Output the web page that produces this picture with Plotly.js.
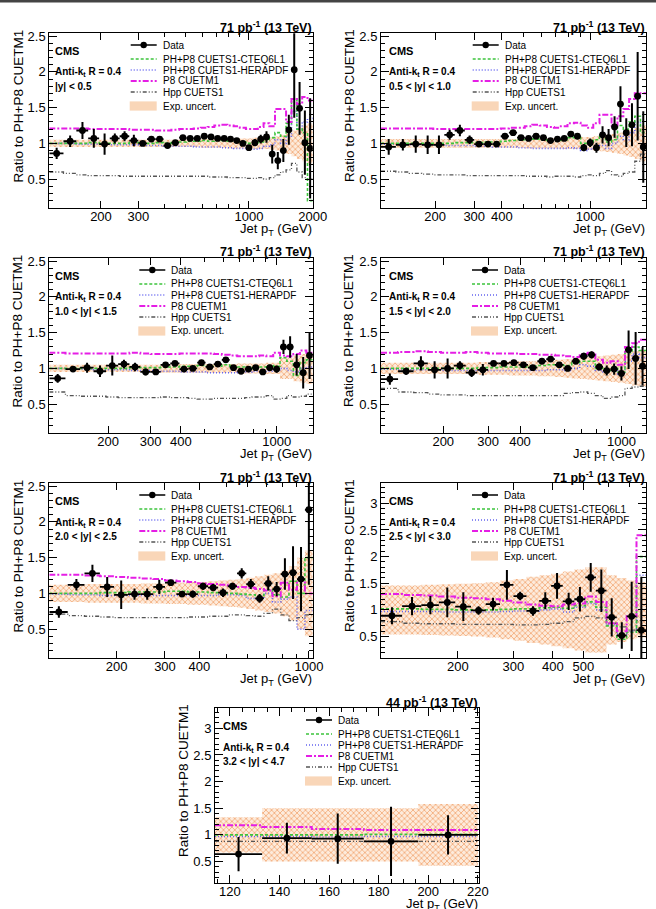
<!DOCTYPE html>
<html>
<head>
<meta charset="utf-8">
<script src="https://cdn.plot.ly/plotly-3.0.1.min.js"></script>
<style>
  html, body { margin: 0; padding: 0; background: #fff; }
  #chart { width: 656px; height: 909px; }
</style>
</head>
<body>
<div id="chart"></div>
<script>
// Jet pT bin edges (GeV), shared by all rapidity bins
const ptEdges = [114,133,153,174,196,220,245,272,300,330,362,395,430,468,507,548,592,638,686,737,790,846,905,967,1032,1101,1172,1248,1327,1410,1497,1588,1684,1784,1890,2000];

// |y| < 0.5
const ratio_y0 = [0.86,1.03,1.18,1.07,0.99,1.07,1.10,1.04,1.00,1.06,1.06,0.97,1.01,1.08,1.07,1.07,1.10,1.09,1.07,1.07,1.06,1.04,1.00,0.94,1.01,1.06,1.09,0.85,0.76,0.90,1.19,2.03,1.49,1.01,0.93];
const stat_y0  = [0.08,0.08,0.12,0.13,0.15,0.07,0.07,0.08,0.02,0.02,0.02,0.02,0.02,0.02,0.02,0.02,0.02,0.02,0.02,0.02,0.02,0.03,0.03,0.03,0.05,0.06,0.08,0.13,0.12,0.16,0.21,0.67,0.37,0.45,0.70];
const cteq_y0  = [1.00,1.00,1.00,1.01,1.00,1.00,1.00,1.01,1.01,1.00,1.01,1.00,1.01,1.02,1.03,1.03,1.04,1.03,1.04,1.04,1.03,1.03,1.02,1.00,1.00,1.02,1.05,1.08,1.15,1.10,1.28,1.62,1.20,1.15,0.20];
const hera_y0  = [1.00,1.00,0.99,0.99,0.99,0.98,0.98,0.98,0.97,0.97,0.97,0.96,0.96,0.96,0.96,0.95,0.95,0.95,0.95,0.94,0.94,0.93,0.93,0.92,0.92,0.93,0.96,0.98,1.05,1.00,1.10,1.45,1.20,1.30,1.35];
const p8_y0    = [1.21,1.21,1.21,1.20,1.20,1.20,1.20,1.19,1.19,1.19,1.18,1.18,1.19,1.20,1.20,1.21,1.22,1.23,1.25,1.26,1.25,1.24,1.22,1.20,1.20,1.23,1.28,1.24,1.48,1.48,1.30,1.62,1.55,1.65,1.60];
const hpp_y0   = [0.60,0.58,0.56,0.55,0.55,0.55,0.54,0.54,0.54,0.54,0.54,0.54,0.54,0.54,0.54,0.54,0.54,0.53,0.53,0.53,0.52,0.52,0.52,0.51,0.51,0.52,0.50,0.52,0.56,0.60,0.63,0.72,0.60,0.52,0.50];
const unc_y0   = [0.05,0.05,0.05,0.05,0.05,0.05,0.05,0.05,0.05,0.05,0.05,0.05,0.05,0.05,0.05,0.05,0.06,0.06,0.06,0.06,0.07,0.07,0.07,0.07,0.08,0.08,0.08,0.09,0.10,0.12,0.15,0.18,0.22,0.25,0.28];

// 0.5 < |y| < 1.0
const ratio_y1 = [0.95,0.98,0.99,0.98,0.98,1.12,1.18,1.05,0.99,0.99,0.99,1.10,1.15,1.08,1.07,1.10,1.08,1.04,1.06,1.07,1.13,1.10,0.94,1.01,0.94,1.12,1.08,1.23,1.55,1.15,1.26,1.66,0.95];
const stat_y1  = [0.11,0.08,0.12,0.13,0.13,0.07,0.08,0.06,0.02,0.02,0.02,0.03,0.03,0.02,0.02,0.02,0.02,0.02,0.03,0.03,0.04,0.04,0.05,0.06,0.07,0.12,0.12,0.15,0.25,0.20,0.30,0.62,0.50];
const cteq_y1  = [1.00,1.00,1.00,1.00,1.00,1.00,1.01,1.01,1.01,1.02,1.02,1.03,1.04,1.05,1.05,1.06,1.05,1.04,1.04,1.05,1.08,1.10,1.00,1.02,1.05,1.10,1.02,1.05,1.25,1.20,1.30,1.38,1.15];
const hera_y1  = [0.99,0.99,0.98,0.98,0.98,0.97,0.97,0.97,0.96,0.96,0.95,0.95,0.95,0.94,0.94,0.93,0.93,0.93,0.93,0.93,0.94,0.93,0.90,0.92,0.95,0.97,0.93,1.00,1.10,1.05,1.15,1.30,1.25];
const p8_y1    = [1.21,1.21,1.21,1.21,1.20,1.20,1.20,1.20,1.20,1.20,1.20,1.21,1.22,1.22,1.24,1.26,1.25,1.23,1.22,1.24,1.28,1.29,1.25,1.22,1.28,1.40,1.40,1.25,1.38,1.48,1.62,1.70,1.70];
const hpp_y1   = [0.61,0.60,0.58,0.57,0.56,0.56,0.56,0.55,0.55,0.55,0.55,0.55,0.55,0.55,0.54,0.54,0.54,0.53,0.54,0.54,0.54,0.53,0.55,0.56,0.55,0.58,0.62,0.56,0.54,0.58,0.60,0.75,0.85];
const unc_y1   = [0.06,0.06,0.06,0.06,0.06,0.06,0.06,0.06,0.06,0.06,0.06,0.06,0.06,0.06,0.07,0.07,0.07,0.07,0.07,0.08,0.08,0.08,0.09,0.09,0.10,0.11,0.12,0.13,0.15,0.17,0.19,0.22,0.25];

// 1.0 < |y| < 1.5
const ratio_y2 = [0.86,0.99,1.01,0.96,1.04,1.06,1.02,0.95,0.95,1.05,1.07,0.99,1.00,1.08,1.02,1.06,1.12,1.01,0.96,0.99,1.01,0.95,1.01,0.99,1.30,1.30,1.05,0.94,1.18];
const stat_y2  = [0.06,0.04,0.07,0.08,0.14,0.06,0.06,0.05,0.02,0.02,0.02,0.02,0.02,0.02,0.02,0.02,0.03,0.02,0.02,0.02,0.02,0.03,0.04,0.05,0.10,0.15,0.15,0.22,0.33];
const cteq_y2  = [1.00,1.00,1.00,1.00,1.00,1.00,1.01,1.01,1.01,1.02,1.02,1.03,1.03,1.04,1.03,1.03,1.05,1.03,1.02,1.01,1.00,1.02,1.04,1.03,1.15,1.10,0.90,1.08,1.12];
const hera_y2  = [1.00,0.99,0.99,0.98,0.98,0.98,0.97,0.97,0.97,0.96,0.96,0.95,0.95,0.95,0.94,0.94,0.94,0.94,0.95,0.95,0.96,0.96,0.96,0.98,1.00,0.97,0.95,1.00,1.02];
const p8_y2    = [1.22,1.21,1.21,1.21,1.21,1.21,1.22,1.21,1.20,1.20,1.20,1.21,1.21,1.21,1.21,1.20,1.19,1.18,1.17,1.17,1.17,1.18,1.17,1.22,1.18,1.17,1.20,1.25,1.22];
const hpp_y2   = [0.67,0.62,0.61,0.61,0.60,0.59,0.59,0.59,0.59,0.60,0.59,0.59,0.58,0.57,0.57,0.58,0.58,0.58,0.58,0.59,0.60,0.60,0.62,0.57,0.58,0.62,0.60,0.61,0.64];
const unc_y2   = [0.05,0.05,0.05,0.05,0.05,0.05,0.05,0.05,0.05,0.06,0.06,0.06,0.06,0.06,0.06,0.06,0.06,0.06,0.07,0.07,0.07,0.07,0.08,0.08,0.15,0.15,0.18,0.20,0.22];

// 1.5 < |y| < 2.0
const ratio_y3 = [0.85,0.96,1.07,0.98,1.00,1.04,0.94,0.98,1.07,1.07,1.08,1.05,1.01,1.10,1.13,1.05,1.00,1.10,1.17,1.19,1.02,0.97,0.99,0.93,1.26,1.14,1.03];
const stat_y3  = [0.08,0.05,0.10,0.12,0.14,0.06,0.06,0.08,0.03,0.03,0.03,0.03,0.03,0.03,0.03,0.03,0.03,0.04,0.05,0.05,0.05,0.07,0.08,0.10,0.27,0.37,0.27];
const cteq_y3  = [1.00,1.00,1.00,1.00,1.00,1.00,1.00,1.01,1.01,1.02,1.02,1.02,1.03,1.04,1.05,1.05,1.04,1.08,1.10,1.10,1.00,0.97,1.00,0.95,1.22,1.30,1.25];
const hera_y3  = [0.99,0.98,0.98,0.98,0.97,0.97,0.97,0.97,0.97,0.97,0.97,0.97,0.97,0.97,0.98,0.98,0.97,1.00,1.05,1.03,0.97,0.95,0.98,0.92,1.10,1.20,1.15];
const p8_y3    = [1.22,1.23,1.24,1.23,1.22,1.22,1.23,1.22,1.21,1.21,1.21,1.20,1.20,1.19,1.19,1.18,1.17,1.16,1.20,1.22,1.12,1.08,1.10,1.05,1.30,1.35,1.40];
const hpp_y3   = [0.72,0.67,0.66,0.64,0.63,0.63,0.62,0.62,0.62,0.62,0.62,0.62,0.62,0.62,0.62,0.62,0.65,0.66,0.67,0.65,0.62,0.58,0.60,0.62,0.72,0.74,0.75];
const unc_y3   = [0.08,0.08,0.08,0.08,0.08,0.08,0.08,0.09,0.09,0.09,0.10,0.10,0.10,0.11,0.11,0.12,0.13,0.14,0.15,0.16,0.17,0.18,0.19,0.20,0.22,0.24,0.25];

// 2.0 < |y| < 2.5
const ratio_y4 = [0.74,1.12,1.28,1.09,0.98,0.99,0.99,1.09,1.15,0.99,0.99,1.10,1.08,1.01,1.10,1.28,1.13,0.93,1.14,1.06,1.27,1.29,1.20,2.17];
const stat_y4  = [0.08,0.08,0.12,0.14,0.20,0.08,0.08,0.10,0.04,0.04,0.05,0.05,0.05,0.06,0.05,0.07,0.07,0.06,0.10,0.10,0.22,0.37,0.45,1.05];
const cteq_y4  = [1.00,1.00,1.00,1.01,1.01,1.02,1.02,1.02,1.03,1.03,1.02,1.02,1.01,1.00,1.00,0.99,0.98,0.97,1.05,0.98,0.95,1.17,1.00,1.50];
const hera_y4  = [0.99,0.98,0.98,0.97,0.97,0.97,0.97,0.97,0.97,0.97,0.97,0.97,0.97,0.98,0.98,0.97,0.93,0.92,1.00,0.88,0.92,0.95,0.50,0.76];
const p8_y4    = [1.26,1.26,1.25,1.24,1.23,1.22,1.21,1.20,1.18,1.17,1.16,1.14,1.13,1.12,1.11,1.09,1.08,1.06,1.04,0.96,1.15,1.05,1.18,1.00];
const hpp_y4   = [0.71,0.69,0.68,0.67,0.66,0.66,0.66,0.66,0.66,0.66,0.67,0.67,0.68,0.68,0.70,0.70,0.69,0.68,0.72,0.78,0.70,0.62,0.66,0.70];
const unc_y4   = [0.12,0.12,0.13,0.13,0.13,0.13,0.14,0.14,0.15,0.15,0.16,0.16,0.17,0.18,0.19,0.20,0.22,0.24,0.26,0.28,0.32,0.38,0.50,0.60];

// 2.5 < |y| < 3.0
const ratio_y5 = [0.89,1.07,1.09,1.14,1.06,0.99,1.11,1.47,1.26,0.98,1.17,1.45,1.16,1.20,1.61,1.36,0.86,0.52,0.88,0.62];
const stat_y5  = [0.16,0.17,0.17,0.28,0.27,0.08,0.12,0.28,0.08,0.09,0.16,0.24,0.16,0.23,0.27,0.40,0.36,0.25,0.65,1.00];
const cteq_y5  = [1.02,1.02,1.01,1.01,1.00,1.00,1.00,1.01,1.02,1.02,1.04,1.05,1.03,1.08,1.15,1.05,0.70,0.45,0.58,2.00];
const hera_y5  = [0.97,0.97,0.97,0.96,0.96,0.96,0.96,0.97,0.98,0.98,1.00,1.02,0.96,1.05,1.12,1.00,0.72,0.55,0.60,1.65];
const p8_y5    = [1.30,1.28,1.27,1.25,1.23,1.22,1.20,1.17,1.14,1.10,1.08,1.07,1.10,1.12,1.25,1.15,0.75,0.60,0.88,2.40];
const hpp_y5   = [0.78,0.75,0.74,0.74,0.73,0.73,0.73,0.73,0.72,0.72,0.73,0.75,0.78,0.85,0.88,0.85,0.75,0.68,0.62,0.80];
const unc_y5   = [0.46,0.46,0.47,0.48,0.49,0.50,0.52,0.55,0.58,0.62,0.65,0.68,0.72,0.76,0.80,0.80,0.65,0.60,0.55,0.52];

// 3.2 < |y| < 4.7
const ratio_y6 = [0.64,0.94,0.93,0.88,1.00];
const stat_y6  = [0.32,0.29,0.47,0.65,0.37];
const cteq_y6  = [1.00,1.00,1.00,1.01,1.01];
const hera_y6  = [0.97,0.97,0.96,0.97,0.97];
const p8_y6    = [1.18,1.15,1.11,1.09,1.09];
const hpp_y6   = [0.88,0.88,0.88,0.88,0.88];
const unc_y6   = [0.33,0.50,0.50,0.50,0.58];

const yBinLabels = ['|y| < 0.5','0.5 < |y| < 1.0','1.0 < |y| < 1.5','1.5 < |y| < 2.0','2.0 < |y| < 2.5','2.5 < |y| < 3.0','3.2 < |y| < 4.7'];
const lumiLabels = ['71','71','71','71','71','71','44'];
const xTickLabels = [[200,300,1000,2000],[200,300,400,1000],[200,300,400,1000],[200,300,400,1000],[200,300,400,1000],[200,300,400,500],[120,140,160,180,200,220]];
const legendNames = ['Data','PH+P8 CUETS1-CTEQ6L1','PH+P8 CUETS1-HERAPDF','P8 CUETM1','Hpp CUETS1','Exp. uncert.'];

const W = 656, H = 909;
const FONT = 'Liberation Sans, Arial, Helvetica, sans-serif';

// pad geometry (pixels): cell origin, frame left/right inside the cell, text/legend anchors
const pads = [
  {cell:[0,0],     fl:49.3, fr:312.7, txt:53.5, leg:130.7, ymax:2.54, ytx:17.5, log:true},
  {cell:[326,0],   fl:55,   fr:320,   txt:61.7, leg:146.7, ymax:2.54, ytx:23,   log:true},
  {cell:[0,225],   fl:49.3, fr:312.7, txt:54,   leg:139.3, ymax:2.54, ytx:17.5, log:true},
  {cell:[326,225], fl:55,   fr:320,   txt:61.7, leg:146,   ymax:2.54, ytx:23,   log:true},
  {cell:[0,450],   fl:49.3, fr:312.7, txt:54,   leg:139.3, ymax:2.54, ytx:17.5, log:true},
  {cell:[326,450], fl:55,   fr:320,   txt:61.7, leg:146,   ymax:3.375, ytx:23,  log:true},
  {cell:[160,675], fl:55,   fr:319.3, txt:61.7, leg:146,   ymax:3.375, ytx:23,  log:false}
];

const series = [
  {ratio:ratio_y0, stat:stat_y0, cteq:cteq_y0, hera:hera_y0, p8:p8_y0, hpp:hpp_y0, unc:unc_y0},
  {ratio:ratio_y1, stat:stat_y1, cteq:cteq_y1, hera:hera_y1, p8:p8_y1, hpp:hpp_y1, unc:unc_y1},
  {ratio:ratio_y2, stat:stat_y2, cteq:cteq_y2, hera:hera_y2, p8:p8_y2, hpp:hpp_y2, unc:unc_y2},
  {ratio:ratio_y3, stat:stat_y3, cteq:cteq_y3, hera:hera_y3, p8:p8_y3, hpp:hpp_y3, unc:unc_y3},
  {ratio:ratio_y4, stat:stat_y4, cteq:cteq_y4, hera:hera_y4, p8:p8_y4, hpp:hpp_y4, unc:unc_y4},
  {ratio:ratio_y5, stat:stat_y5, cteq:cteq_y5, hera:hera_y5, p8:p8_y5, hpp:hpp_y5, unc:unc_y5},
  {ratio:ratio_y6, stat:stat_y6, cteq:cteq_y6, hera:hera_y6, p8:p8_y6, hpp:hpp_y6, unc:unc_y6}
];

// line styles of the model curves
const styles = {
  cteq: {color:'#3cc43c', width:1.6, dash:'3px,2px'},
  hera: {color:'#6464f0', width:1.6, dash:'1px,2px'},
  p8:   {color:'#e51ee5', width:2.0, dash:'6px,2px,2px,2px'},
  hpp:  {color:'#555555', width:1.3, dash:'4px,2px,1px,2px,1px,2px'}
};
const bandFill = 'rgba(253,233,216,1)';
const bandPattern = {shape:'x', size:4, solidity:0.38, fgcolor:'#f3ac7a', bgcolor:'#fdebdc', fillmode:'replace'};

const px = v => v / W;
const py = v => 1 - v / H;
const stepY = v => v.concat([v[v.length - 1]]);

const traces = [], shapes = [], annotations = [];
const layout = {
  width: W, height: H, margin: {l:0, r:0, t:0, b:0},
  paper_bgcolor: '#fff', plot_bgcolor: '#fff',
  showlegend: false, font: {family: FONT, color: '#000'}
};

pads.forEach((pad, i) => {
  const s = series[i];
  const sfx = i === 0 ? '' : String(i + 1);
  const xa = 'x' + sfx, ya = 'y' + sfx;
  const [cx, cy] = pad.cell;
  const L = cx + pad.fl, R = cx + pad.fr, T = cy + 33.3, B = cy + 208.3;
  const n = s.ratio.length;
  const edges = ptEdges.slice(0, n + 1);
  const centers = s.ratio.map((_, k) => (edges[k] + edges[k + 1]) / 2);

  // experimental uncertainty band around unity
  traces.push({type:'scatter', mode:'lines', x:edges, y:stepY(s.unc.map(u => 1 - u)),
    line:{shape:'hv', width:0, color:'rgba(0,0,0,0)'}, xaxis:xa, yaxis:ya, hoverinfo:'skip'});
  traces.push({type:'scatter', mode:'lines', x:edges, y:stepY(s.unc.map(u => 1 + u)),
    line:{shape:'hv', width:0, color:'rgba(0,0,0,0)'}, fill:'tonexty', fillcolor:bandFill,
    fillpattern:bandPattern, xaxis:xa, yaxis:ya, hoverinfo:'skip'});

  // model predictions as histograms
  ['hpp','hera','cteq','p8'].forEach(key => {
    traces.push({type:'scatter', mode:'lines', x:edges, y:stepY(s[key]),
      line:Object.assign({shape:'hv'}, styles[key]), xaxis:xa, yaxis:ya, hoverinfo:'skip'});
  });

  // data points with bin-width and statistical bars
  traces.push({type:'scatter', mode:'markers', x:centers, y:s.ratio,
    marker:{symbol:'circle', size:6.8, color:'#000'},
    error_x:{type:'data', symmetric:false, array:centers.map((c, k) => edges[k + 1] - c),
      arrayminus:centers.map((c, k) => c - edges[k]), color:'#000', thickness:1.8, width:0},
    error_y:{type:'data', array:s.stat, color:'#000', thickness:2, width:0},
    xaxis:xa, yaxis:ya, hoverinfo:'skip'});

  const axisCommon = {showline:true, linecolor:'#000', linewidth:1, mirror:'allticks', ticks:'inside',
    tickcolor:'#000', tickwidth:1, showgrid:false, zeroline:false, fixedrange:true,
    tickfont:{family:FONT, size:13, color:'#000'}};

  let xaxis;
  if (pad.log) {
    const lo = edges[0], hi = edges[n];
    const allTicks = [];
    [100, 1000].forEach(d => { for (let m = 1; m <= 9; m++) { const v = m * d; if (v > lo && v <= hi + 1e-6) allTicks.push(v); } });
    const major = xTickLabels[i];
    xaxis = Object.assign({}, axisCommon, {type:'log', range:[Math.log10(lo), Math.log10(hi) + 1e-5],
      tickmode:'array', tickvals:major, ticktext:major.map(String), ticklen:7,
      minor:{tickmode:'array', tickvals:allTicks.filter(v => major.indexOf(v) < 0), ticklen:4, ticks:'inside', tickcolor:'#000', showgrid:false}});
  } else {
    xaxis = Object.assign({}, axisCommon, {type:'linear', range:[edges[0], edges[n] + 0.6],
      tickmode:'array', tickvals:xTickLabels[i], ticktext:xTickLabels[i].map(String), ticklen:8,
      minor:{dtick:5, tick0:0, ticklen:4, ticks:'inside', tickcolor:'#000', showgrid:false}});
  }
  xaxis.domain = [px(L), px(R)];
  xaxis.anchor = ya;
  xaxis.ticklabelstandoff = -4;
  const yaxis = Object.assign({}, axisCommon, {range:[0.092, pad.ymax], tickmode:'linear', tick0:0, dtick:0.5,
    ticklen:8, domain:[py(B), py(T)], anchor:xa,
    minor:{dtick:0.1, tick0:0, ticklen:4, ticks:'inside', tickcolor:'#000', showgrid:false}});
  layout['xaxis' + sfx] = xaxis;
  layout['yaxis' + sfx] = yaxis;

  const ann = (text, x, y, opts) => annotations.push(Object.assign({text, x:px(x), y:py(y), xref:'paper', yref:'paper',
    showarrow:false, xanchor:'left', yanchor:'middle', font:{family:FONT, size:10, color:'#000'}}, opts || {}));

  // luminosity / energy label
  ann('<b>' + lumiLabels[i] + ' pb<sup>-1</sup> (13 TeV)</b>', R + 1, cy + 26.5, {xanchor:'right', font:{family:FONT, size:12.5, color:'#000'}});
  // CMS label, jet algorithm, rapidity bin
  ann('<b>CMS</b>', cx + pad.txt - 1, cy + 50.5, {font:{family:FONT, size:11, color:'#000'}});
  ann('<b>Anti-k<sub>t</sub> R = 0.4</b>', cx + pad.txt - 1, cy + 72.5);
  ann('<b>' + yBinLabels[i] + '</b>', cx + pad.txt - 1, cy + 86.5);
  // axis titles
  ann('Ratio to PH+P8 CUETM1', cx + pad.ytx, cy + 106,
    {xanchor:'center', yanchor:'middle', textangle:-90, font:{family:FONT, size:13.5, color:'#000'}});
  ann('Jet p<sub>T</sub> (GeV)', R + 1, cy + 229.5, {xanchor:'right', font:{family:FONT, size:13, color:'#000'}});

  // legend
  const gx = cx + pad.leg, gw = 26;
  const rows = [45, 59, 70, 81, 92, 106].map(r => cy + r);
  legendNames.forEach((name, k) => ann(name, gx + gw + 4, rows[k]));
  const hline = (y, line) => shapes.push({type:'line', xref:'paper', yref:'paper', x0:px(gx), x1:px(gx + gw), y0:py(y), y1:py(y), line});
  hline(rows[0], {color:'#000', width:1.5});
  shapes.push({type:'circle', xref:'paper', yref:'paper', x0:px(gx + gw / 2 - 3.2), x1:px(gx + gw / 2 + 3.2),
    y0:py(rows[0] + 3.2), y1:py(rows[0] - 3.2), fillcolor:'#000', line:{width:0}});
  hline(rows[1], styles.cteq);
  hline(rows[2], styles.hera);
  hline(rows[3], styles.p8);
  hline(rows[4], styles.hpp);
  shapes.push({type:'rect', xref:'paper', yref:'paper', x0:px(gx - 1), x1:px(gx + gw), y0:py(rows[5] + 4.6), y1:py(rows[5] - 4.6),
    fillcolor:'#f9d6b8', line:{width:0}});
});

// page rule across the top
shapes.push({type:'line', xref:'paper', yref:'paper', x0:0, x1:1, y0:py(1.3), y1:py(1.3), line:{color:'#444', width:2.6}});

layout.shapes = shapes;
layout.annotations = annotations;

Plotly.newPlot('chart', traces, layout, {displayModeBar:false, staticPlot:true});
</script>
</body>
</html>
